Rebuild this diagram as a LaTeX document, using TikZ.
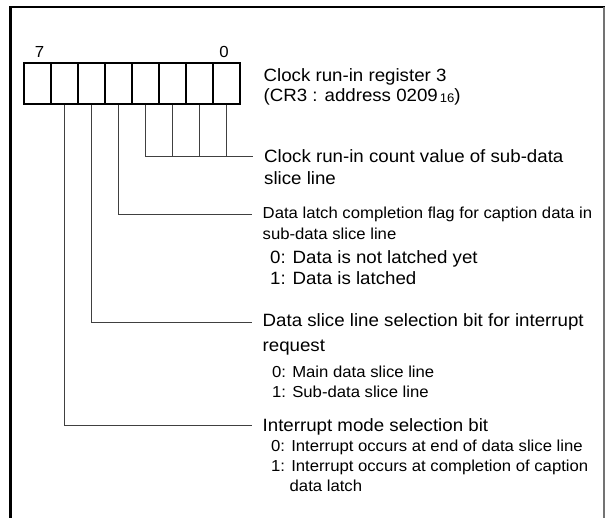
\documentclass[tikz,border=0pt]{standalone}
\usepackage{fontspec}
\setmainfont[FakeStretch=1.05]{Liberation Sans}
\begin{document}
\begin{tikzpicture}[x=1pt,y=-1pt,
  bitbox/.style={draw,line width=2pt,minimum width=27pt,minimum height=41pt,inner sep=0pt},
  conn/.style={draw=black!75,line width=1pt},
  bignum/.style={font=\fontsize{16}{18}\selectfont,inner sep=0pt,anchor=base},
  ltext/.style={font=\fontsize{17.8}{20}\selectfont,inner sep=0pt,anchor=base west},
  stext/.style={font=\fontsize{15.9}{18}\selectfont,inner sep=0pt,anchor=base west}]
\useasboundingbox (0,0) rectangle (605,518);
% frame
\draw[line width=3pt] (10.8,518) -- (10.8,7.2);
\draw[line width=2.3pt] (9.3,7.2) -- (604.5,7.2);
\draw[black!55,line width=1.3pt] (604,7.2) -- (604,518);
% register boxes
\foreach \b in {0,...,7}{
  \node[bitbox] (b\b) at ({37.5+27*(7-\b)},83.5) {};
}
\node[bignum] (n7) at (39.5,58) {7};
\node[bignum] (n0) at (224,58) {0};
% connector end points
\coordinate (c1) at (253,157);
\coordinate (c2) at (252,215);
\coordinate (c3) at (252,323);
\coordinate (c4) at (252,425);
\draw[conn] (b3.south) |- (c1);
\foreach \b in {2,1,0}{ \draw[conn] (b\b.south) -- (b\b.south |- c1); }
\draw[conn] (b4.south) |- (c2);
\draw[conn] (b5.south) |- (c3);
\draw[conn] (b6.south) |- (c4);
% texts
\node[ltext] (t1) at (263.5,82) {Clock run-in register 3};
\node[ltext] (t2) at (263.5,101.5) {(CR3 : address 0209\hspace{2pt}{\fontsize{12.5}{14}\selectfont\raisebox{-1.2pt}{16}})};
\node[ltext] (t3) at (264,162.5) {Clock run-in count value of sub-data};
\node[ltext] (t4) at (264,185) {slice line};
\node[stext] (t5) at (262.5,218.3) {Data latch completion flag for caption data in};
\node[stext] (t6) at (262.5,240) {sub-data slice line};
\node[ltext] (t7) at (270,263.3) {0: Data is not latched yet};
\node[ltext] (t8) at (270,285) {1: Data is latched};
\node[ltext] (t9) at (262.5,326.7) {Data slice line selection bit for interrupt};
\node[ltext] (t10) at (262.5,351.7) {request};
\node[stext] (t11) at (272,377.3) {0: Main data slice line};
\node[stext] (t12) at (272,397.3) {1: Sub-data slice line};
\node[ltext] (t13) at (262.5,431.7) {Interrupt mode selection bit};
\node[stext] (t14) at (271,451.7) {0: Interrupt occurs at end of data slice line};
\node[stext] (t15) at (271,471.7) {1: Interrupt occurs at completion of caption};
\node[stext] (t16) at (289.5,491.7) {data latch};
\end{tikzpicture}
\end{document}
